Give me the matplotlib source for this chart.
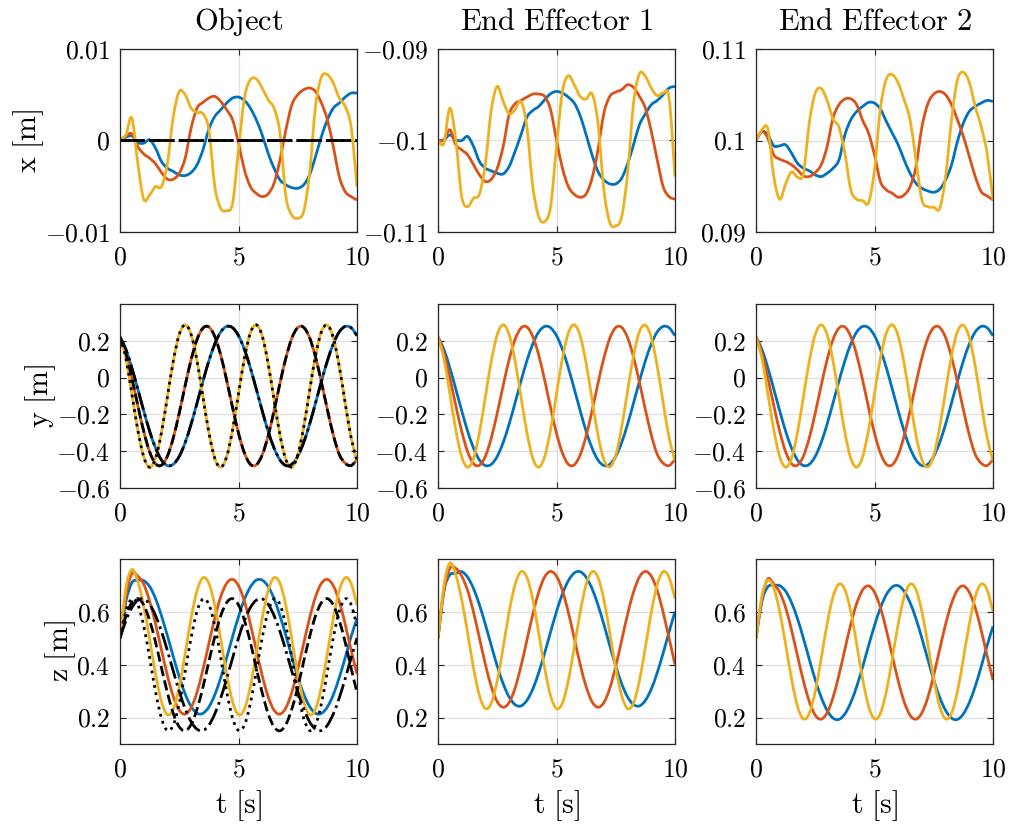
import numpy as np
import matplotlib
matplotlib.use("Agg")
import matplotlib.pyplot as plt
from matplotlib.ticker import FixedLocator, FixedFormatter
from matplotlib.path import Path
from matplotlib.patches import PathPatch

plt.rcParams["mathtext.fontset"] = "cm"
plt.rcParams["font.family"] = "serif"
plt.rcParams["font.serif"] = ["cmr10", "DejaVu Serif"]
plt.rcParams["axes.unicode_minus"] = False

# sample times [s]
t = np.linspace(0.0, 10.0, 41)

# ---- x position [m] ----
obj_x_blue = [0.0, 0.00036, 0.00051, -0.00022, -0.00029, 0.00007, -0.00084, -0.00230, -0.00303, -0.00339,
              -0.00376, -0.00383, -0.00350, -0.00266, -0.00102, 0.00124, 0.00263, 0.00336, 0.00409, 0.00464,
              0.00474, 0.00438, 0.00354, 0.00226, 0.00062, -0.00139, -0.00303, -0.00431, -0.00485, -0.00515,
              -0.00522, -0.00485, -0.00376, -0.00175, 0.00044, 0.00226, 0.00354, 0.00409, 0.00474, 0.00518,
              0.00518]
obj_x_orange = [0.0, 0.00051, 0.00073, -0.00066, -0.00146, -0.00193, -0.00255, -0.00350, -0.00423, -0.00423,
                -0.00358, -0.00193, 0.00135, 0.00354, 0.00416, 0.00464, 0.00482, 0.00427, 0.00336, 0.00226,
                -0.00029, -0.00321, -0.00504, -0.00577, -0.00613, -0.00584, -0.00467, -0.00212, 0.00117, 0.00391,
                0.00500, 0.00555, 0.00573, 0.00536, 0.00409, 0.00226, -0.00066, -0.00394, -0.00558, -0.00613,
                -0.00650]
obj_x_yellow = [0.0, 0.00062, 0.00245, -0.00248, -0.00642, -0.00595, -0.00504, -0.00504, -0.00248, 0.00263,
                0.00536, 0.00500, 0.00354, 0.00307, 0.00292, 0.00117, -0.00504, -0.00741, -0.00766, -0.00686,
                -0.00102, 0.00464, 0.00664, 0.00672, 0.00573, 0.00445, 0.00354, 0.00080, -0.00613, -0.00814,
                -0.00850, -0.00777, -0.00358, 0.00372, 0.00693, 0.00719, 0.00628, 0.00464, 0.00372, 0.00153,
                -0.00504]
obj_x_ref = [0.0] * 41

ee1_x_blue = [-0.10000, -0.09993, -0.09938, -0.09993, -0.10000, -0.09956, -0.10066, -0.10230, -0.10303, -0.10332,
              -0.10358, -0.10365, -0.10285, -0.10120, -0.09938, -0.09745, -0.09672, -0.09628, -0.09555, -0.09489,
              -0.09464, -0.09482, -0.09526, -0.09591, -0.09730, -0.09938, -0.10157, -0.10339, -0.10431, -0.10474,
              -0.10474, -0.10412, -0.10255, -0.10047, -0.09828, -0.09708, -0.09609, -0.09562, -0.09500, -0.09427,
              -0.09409]
ee1_x_orange = [-0.10000, -0.09993, -0.09883, -0.10047, -0.10102, -0.10157, -0.10266, -0.10376, -0.10449, -0.10423,
                -0.10303, -0.10066, -0.09719, -0.09599, -0.09562, -0.09526, -0.09493, -0.09493, -0.09518, -0.09664,
                -0.09993, -0.10303, -0.10504, -0.10588, -0.10620, -0.10584, -0.10412, -0.10102, -0.09701, -0.09518,
                -0.09471, -0.09445, -0.09391, -0.09420, -0.09518, -0.09646, -0.09901, -0.10212, -0.10504, -0.10613,
                -0.10642]
ee1_x_yellow = [-0.10000, -0.10029, -0.09646, -0.09993, -0.10613, -0.10723, -0.10631, -0.10584, -0.10248, -0.09664,
                -0.09409, -0.09573, -0.09708, -0.09664, -0.09573, -0.09847, -0.10504, -0.10832, -0.10887, -0.10723,
                -0.10066, -0.09464, -0.09292, -0.09391, -0.09518, -0.09547, -0.09489, -0.09810, -0.10540, -0.10898,
                -0.10934, -0.10832, -0.10358, -0.09591, -0.09270, -0.09299, -0.09427, -0.09511, -0.09482, -0.09536,
                -0.10394]

ee2_x_blue = [0.10000, 0.10099, 0.10062, 0.09942, 0.09942, 0.09953, 0.09861, 0.09752, 0.09697, 0.09668,
              0.09624, 0.09606, 0.09642, 0.09697, 0.09788, 0.10062, 0.10226, 0.10318, 0.10372, 0.10416,
              0.10409, 0.10343, 0.10208, 0.10080, 0.09953, 0.09788, 0.09642, 0.09533, 0.09478, 0.09449,
              0.09434, 0.09467, 0.09569, 0.09734, 0.09989, 0.10190, 0.10318, 0.10372, 0.10409, 0.10438,
              0.10427]
ee2_x_orange = [0.10000, 0.10099, 0.10026, 0.09843, 0.09796, 0.09770, 0.09734, 0.09679, 0.09613, 0.09606,
                0.09650, 0.09734, 0.09934, 0.10245, 0.10391, 0.10453, 0.10456, 0.10391, 0.10219, 0.10080,
                0.09843, 0.09551, 0.09460, 0.09423, 0.09380, 0.09405, 0.09496, 0.09715, 0.10146, 0.10401,
                0.10507, 0.10536, 0.10500, 0.10391, 0.10226, 0.10044, 0.09825, 0.09606, 0.09442, 0.09394,
                0.09350]
ee2_x_yellow = [0.10000, 0.10117, 0.10124, 0.09606, 0.09358, 0.09526, 0.09657, 0.09599, 0.09642, 0.10197,
                0.10518, 0.10569, 0.10438, 0.10234, 0.10146, 0.09861, 0.09460, 0.09358, 0.09343, 0.09321,
                0.09679, 0.10354, 0.10672, 0.10719, 0.10628, 0.10445, 0.10226, 0.09788, 0.09350, 0.09277,
                0.09270, 0.09259, 0.09606, 0.10226, 0.10664, 0.10745, 0.10635, 0.10372, 0.10153, 0.09861,
                0.09350]

# ---- y position [m] (object and both end effectors follow the same path) ----
y_blue = [0.220, 0.153, 0.053, -0.062, -0.180, -0.291, -0.383, -0.448, -0.478, -0.471,
          -0.428, -0.353, -0.253, -0.138, -0.020, 0.091, 0.183, 0.248, 0.278, 0.271,
          0.228, 0.153, 0.053, -0.062, -0.180, -0.291, -0.383, -0.448, -0.478, -0.471,
          -0.428, -0.353, -0.253, -0.138, -0.020, 0.091, 0.183, 0.248, 0.278, 0.271,
          0.228]
y_orange = [0.220, 0.131, -0.002, -0.151, -0.292, -0.403, -0.468, -0.476, -0.427, -0.327,
            -0.192, -0.043, 0.097, 0.207, 0.269, 0.275, 0.223, 0.122, -0.014, -0.163,
            -0.302, -0.410, -0.471, -0.474, -0.420, -0.317, -0.180, -0.031, 0.107, 0.214,
            0.272, 0.273, 0.217, 0.112, -0.026, -0.174, -0.312, -0.417, -0.465, -0.478,
            -0.445]
y_yellow = [0.220, 0.105, -0.088, -0.284, -0.430, -0.487, -0.439, -0.298, -0.104, 0.091,
            0.234, 0.287, 0.234, 0.091, -0.104, -0.298, -0.439, -0.487, -0.430, -0.284,
            -0.088, 0.105, 0.242, 0.287, 0.226, 0.077, -0.120, -0.312, -0.446, -0.486,
            -0.422, -0.270, -0.072, 0.119, 0.250, 0.285, 0.217, 0.062, -0.136, -0.325,
            -0.453]

# ---- z position [m] ----
obj_z_blue = [0.500, 0.640, 0.710, 0.720, 0.718, 0.696, 0.650, 0.585, 0.510, 0.430,
              0.354, 0.289, 0.242, 0.216, 0.216, 0.240, 0.286, 0.351, 0.426, 0.506,
              0.582, 0.647, 0.694, 0.720, 0.720, 0.696, 0.650, 0.585, 0.510, 0.430,
              0.354, 0.289, 0.242, 0.216, 0.216, 0.240, 0.286, 0.351, 0.426, 0.506,
              0.575]
obj_z_orange = [0.500, 0.660, 0.745, 0.735, 0.705, 0.640, 0.554, 0.456, 0.359, 0.279,
                0.228, 0.213, 0.237, 0.296, 0.382, 0.480, 0.577, 0.657, 0.708, 0.723,
                0.699, 0.640, 0.554, 0.456, 0.359, 0.279, 0.228, 0.213, 0.237, 0.296,
                0.382, 0.480, 0.577, 0.657, 0.708, 0.723, 0.699, 0.640, 0.554, 0.456,
                0.365]
obj_z_yellow = [0.500, 0.690, 0.760, 0.715, 0.623, 0.497, 0.364, 0.260, 0.211, 0.232,
                0.317, 0.443, 0.576, 0.680, 0.729, 0.708, 0.623, 0.497, 0.364, 0.260,
                0.211, 0.232, 0.317, 0.443, 0.576, 0.680, 0.729, 0.708, 0.623, 0.497,
                0.364, 0.260, 0.211, 0.232, 0.317, 0.443, 0.576, 0.680, 0.729, 0.708,
                0.625]
obj_z_ref_blue = [0.501, 0.567, 0.616, 0.644, 0.649, 0.629, 0.586, 0.526, 0.453, 0.375,
                  0.299, 0.234, 0.184, 0.156, 0.151, 0.171, 0.214, 0.274, 0.347, 0.425,
                  0.501, 0.567, 0.616, 0.644, 0.649, 0.629, 0.586, 0.526, 0.453, 0.375,
                  0.299, 0.234, 0.184, 0.156, 0.151, 0.171, 0.214, 0.274, 0.347, 0.425,
                  0.501]
obj_z_ref_orange = [0.500, 0.585, 0.635, 0.650, 0.626, 0.568, 0.485, 0.388, 0.294, 0.215,
                    0.165, 0.150, 0.174, 0.232, 0.315, 0.412, 0.506, 0.585, 0.635, 0.650,
                    0.626, 0.568, 0.485, 0.388, 0.294, 0.215, 0.165, 0.150, 0.174, 0.232,
                    0.315, 0.412, 0.506, 0.585, 0.635, 0.650, 0.626, 0.568, 0.485, 0.388,
                    0.294]
obj_z_ref_yellow = [0.502, 0.602, 0.649, 0.628, 0.547, 0.426, 0.298, 0.198, 0.151, 0.172,
                    0.253, 0.374, 0.502, 0.602, 0.649, 0.628, 0.547, 0.426, 0.298, 0.198,
                    0.151, 0.172, 0.253, 0.374, 0.502, 0.602, 0.649, 0.628, 0.547, 0.426,
                    0.298, 0.198, 0.151, 0.172, 0.253, 0.374, 0.502, 0.602, 0.649, 0.628,
                    0.547]

ee1_z_blue = [0.500, 0.680, 0.740, 0.745, 0.752, 0.731, 0.688, 0.626, 0.552, 0.472,
              0.395, 0.328, 0.278, 0.249, 0.244, 0.265, 0.308, 0.370, 0.444, 0.524,
              0.601, 0.668, 0.718, 0.747, 0.752, 0.731, 0.688, 0.626, 0.552, 0.472,
              0.395, 0.328, 0.278, 0.249, 0.244, 0.265, 0.308, 0.370, 0.444, 0.524,
              0.601]
ee1_z_orange = [0.500, 0.680, 0.765, 0.765, 0.735, 0.681, 0.598, 0.500, 0.401, 0.317,
                0.260, 0.239, 0.257, 0.311, 0.394, 0.492, 0.591, 0.675, 0.732, 0.753,
                0.735, 0.681, 0.598, 0.500, 0.401, 0.317, 0.260, 0.239, 0.257, 0.311,
                0.394, 0.492, 0.591, 0.675, 0.732, 0.753, 0.735, 0.681, 0.598, 0.500,
                0.401]
ee1_z_yellow = [0.500, 0.700, 0.785, 0.740, 0.646, 0.520, 0.387, 0.283, 0.234, 0.255,
                0.340, 0.466, 0.599, 0.703, 0.752, 0.731, 0.646, 0.520, 0.387, 0.283,
                0.234, 0.255, 0.340, 0.466, 0.599, 0.703, 0.752, 0.731, 0.646, 0.520,
                0.387, 0.283, 0.234, 0.255, 0.340, 0.466, 0.599, 0.703, 0.752, 0.731,
                0.650]

ee2_z_blue = [0.500, 0.640, 0.695, 0.700, 0.699, 0.678, 0.635, 0.574, 0.500, 0.420,
              0.343, 0.277, 0.227, 0.198, 0.193, 0.214, 0.257, 0.318, 0.392, 0.472,
              0.548, 0.615, 0.665, 0.694, 0.699, 0.678, 0.635, 0.574, 0.500, 0.420,
              0.343, 0.277, 0.227, 0.198, 0.193, 0.214, 0.257, 0.318, 0.392, 0.472,
              0.545]
ee2_z_orange = [0.500, 0.650, 0.725, 0.705, 0.674, 0.616, 0.531, 0.434, 0.339, 0.260,
                0.209, 0.194, 0.218, 0.276, 0.361, 0.458, 0.553, 0.632, 0.683, 0.698,
                0.674, 0.616, 0.531, 0.434, 0.339, 0.260, 0.209, 0.194, 0.218, 0.276,
                0.361, 0.458, 0.553, 0.632, 0.683, 0.698, 0.674, 0.616, 0.531, 0.434,
                0.342]
ee2_z_yellow = [0.500, 0.660, 0.720, 0.690, 0.601, 0.477, 0.346, 0.243, 0.195, 0.216,
                0.299, 0.423, 0.554, 0.657, 0.705, 0.684, 0.601, 0.477, 0.346, 0.243,
                0.195, 0.216, 0.299, 0.423, 0.554, 0.657, 0.705, 0.684, 0.601, 0.477,
                0.346, 0.243, 0.195, 0.216, 0.299, 0.423, 0.554, 0.657, 0.705, 0.684,
                0.601]

col_titles = ["Object", "End Effector 1", "End Effector 2"]
row_labels = ["x [m]", "y [m]", "z [m]"]
x_ticks = [0, 5, 10]
x_tick_labels = ["0", "5", "10"]
y_ticks = [
    [[-0.01, 0.0, 0.01], [-0.11, -0.1, -0.09], [0.09, 0.1, 0.11]],
    [[-0.6, -0.4, -0.2, 0.0, 0.2]] * 3,
    [[0.2, 0.4, 0.6]] * 3,
]
y_tick_labels = [
    [["-0.01", "0", "0.01"], ["-0.11", "-0.1", "-0.09"], ["0.09", "0.1", "0.11"]],
    [["-0.6", "-0.4", "-0.2", "0", "0.2"]] * 3,
    [["0.2", "0.4", "0.6"]] * 3,
]
y_limits = [
    [(-0.01, 0.01), (-0.11, -0.09), (0.09, 0.11)],
    [(-0.6, 0.4)] * 3,
    [(0.1, 0.8)] * 3,
]

BLUE, ORANGE, YELLOW = "#0072BD", "#D95319", "#EDB120"
INK = "#262626"
LW = 2.0


def math_text(s):
    return "$\\mathrm{" + s.replace(" ", "\\ ") + "}$"


def smooth_trace(ax, xs, ys, **style):
    """Draw a curve through every sample using cubic Bezier segments."""
    x = np.asarray(xs, dtype=float)
    y = np.asarray(ys, dtype=float)
    px = np.concatenate([[x[0]], x, [x[-1]]])
    py = np.concatenate([[y[0]], y, [y[-1]]])
    verts = [(x[0], y[0])]
    codes = [Path.MOVETO]
    for i in range(len(x) - 1):
        c1 = (px[i + 1] + (px[i + 2] - px[i]) / 6.0, py[i + 1] + (py[i + 2] - py[i]) / 6.0)
        c2 = (px[i + 2] - (px[i + 3] - px[i + 1]) / 6.0, py[i + 2] - (py[i + 3] - py[i + 1]) / 6.0)
        verts += [c1, c2, (px[i + 2], py[i + 2])]
        codes += [Path.CURVE4] * 3
    patch = PathPatch(Path(verts, codes), fill=False, joinstyle="round", capstyle="butt", **style)
    ax.add_patch(patch)


data = [
    [(obj_x_blue, obj_x_orange, obj_x_yellow), (ee1_x_blue, ee1_x_orange, ee1_x_yellow),
     (ee2_x_blue, ee2_x_orange, ee2_x_yellow)],
    [(y_blue, y_orange, y_yellow)] * 3,
    [(obj_z_blue, obj_z_orange, obj_z_yellow), (ee1_z_blue, ee1_z_orange, ee1_z_yellow),
     (ee2_z_blue, ee2_z_orange, ee2_z_yellow)],
]
refs = [
    (obj_x_ref, obj_x_ref, obj_x_ref),
    (y_blue, y_orange, y_yellow),
    (obj_z_ref_blue, obj_z_ref_orange, obj_z_ref_yellow),
]

W, H = 1010, 825
col_left = [120, 438, 756]
col_width = 237
row_top = [49, 304, 559]
row_bottom = [232, 488, 744]

fig = plt.figure(figsize=(W / 100, H / 100), dpi=100)

for r in range(3):
    for c in range(3):
        rect = [col_left[c] / W, 1 - row_bottom[r] / H, col_width / W, (row_bottom[r] - row_top[r]) / H]
        ax = fig.add_axes(rect)
        ax.set_xlim(0, 10)
        ax.set_ylim(*y_limits[r][c])
        ax.xaxis.set_major_locator(FixedLocator(x_ticks))
        ax.xaxis.set_major_formatter(FixedFormatter([math_text(s) for s in x_tick_labels]))
        ax.yaxis.set_major_locator(FixedLocator(y_ticks[r][c]))
        ax.yaxis.set_major_formatter(FixedFormatter(["$" + s + "$" for s in y_tick_labels[r][c]]))
        ax.grid(True, color="#dedede", linewidth=0.9)
        ax.set_axisbelow(True)
        for sp in ax.spines.values():
            sp.set_color(INK)
            sp.set_linewidth(0.9)
        ax.tick_params(direction="in", top=True, right=True, length=4, width=0.8,
                       color=INK, labelcolor="black", labelsize=18.5)
        ax.tick_params(axis="x", pad=10)
        ax.tick_params(axis="y", pad=7)

        b, o, yv = data[r][c]
        smooth_trace(ax, t, b, edgecolor=BLUE, linewidth=LW)
        smooth_trace(ax, t, o, edgecolor=ORANGE, linewidth=LW)
        smooth_trace(ax, t, yv, edgecolor=YELLOW, linewidth=LW)
        if c == 0:
            rb, ro, ry = refs[r]
            smooth_trace(ax, t, rb, edgecolor="black", linewidth=LW, linestyle="-.")
            smooth_trace(ax, t, ro, edgecolor="black", linewidth=LW, linestyle="--")
            smooth_trace(ax, t, ry, edgecolor="black", linewidth=LW, linestyle=":")
            ax.set_ylabel(math_text(row_labels[r]), fontsize=21.5, labelpad=-1)
        if r == 0:
            ax.set_title(math_text(col_titles[c]), fontsize=22, pad=14)
        if r == 2:
            ax.set_xlabel(math_text("t [s]"), fontsize=21.5, labelpad=5)

fig.savefig("out.png", dpi=100)
